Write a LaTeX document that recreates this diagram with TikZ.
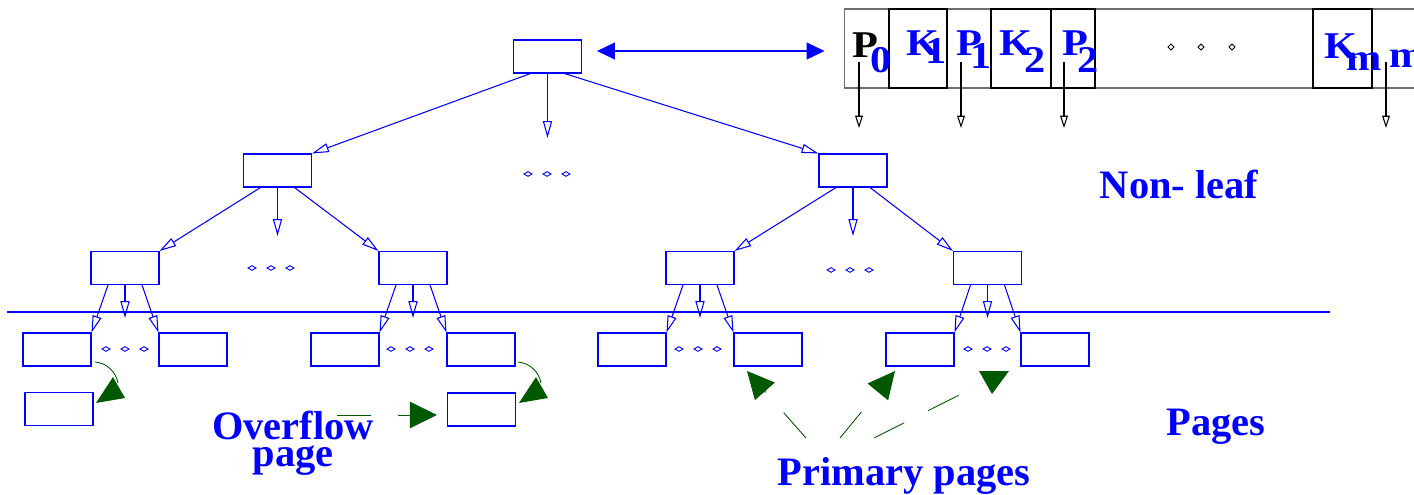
\documentclass[tikz,border=0pt]{standalone}
\usepackage{fontspec}
\setmainfont{Liberation Serif}
\newfontfamily\symfont[FakeStretch=1.12]{Liberation Serif}
\usetikzlibrary{arrows.meta,calc}
\definecolor{fblue}{RGB}{0,0,255}
\definecolor{fgreen}{RGB}{0,88,0}
\definecolor{fgray}{RGB}{110,110,110}
\tikzset{
  bluedia/.pic={\draw[fblue,line width=0.5pt] (-4,0)--(0,-2.3)--(4,0)--(0,2.3)--cycle;},
  blackdia/.pic={\draw[black,line width=0.45pt] (-3,0)--(0,-3)--(3,0)--(0,3)--cycle;},
  threedots/.pic={\pic at (-19,0) {bluedia}; \pic at (0,0) {bluedia}; \pic at (19,0) {bluedia};},
}
\begin{document}
\begin{tikzpicture}[x=0.02cm,y=-0.02cm,
  page/.style={draw=fblue, line width=0.6pt, minimum width=1.36cm, minimum height=0.66cm, inner sep=0pt},
  tree/.style={fblue, line width=0.6pt, -{Triangle[open,length=9.6pt,width=5.2pt]}},
  ptr/.style={black, line width=0.6pt, -{Triangle[open,length=7pt,width=4.4pt]}},
  cell/.style={draw=black, line width=0.6pt, minimum height=1.58cm, inner sep=0pt},
  sym/.style={inner sep=0pt, anchor=base west, font=\symfont\fontsize{21.5}{24}\selectfont\bfseries, text=fblue},
  lbl/.style={inner sep=0pt, anchor=base, font=\fontsize{23}{15.3}\selectfont\bfseries, text=fblue, align=center},
  hint/.style={fgreen, line width=0.5pt, dash pattern=on 19.3pt off 15.3pt},
  bighead/.style={-{Triangle[length=15.4pt,width=15pt]}},
]
\clip (0,0) rectangle (1414,494);

% ---------- detail of a non-leaf page ----------
\node[draw=fgray, line width=0.6pt, minimum width=11.92cm, minimum height=1.58cm, inner sep=0pt] (detail) at (1142,48.5) {};
\node[cell, minimum width=1.16cm] (k1) at (918,48.5) {};
\node[cell, minimum width=1.20cm] (k2) at (1021,48.5) {};
\node[cell, minimum width=0.88cm] (p2c) at (1073,48.5) {};
\node[cell, minimum width=1.18cm] (km) at (1342.5,48.5) {};

\node[sym, text=black] (tP0) at (852,57) {P};
\node[sym] (t0) at (870,72) {0};
\node[sym] (tK1) at (906,55) {K};
\node[sym] (t1a) at (925,63) {1};
\node[sym] (tP1) at (956,55) {P};
\node[sym] (t1b) at (970,68) {1};
\node[sym] (tK2) at (999,55) {K};
\node[sym] (t2a) at (1024,72) {2};
\node[sym] (tP2) at (1062,55) {P};
\node[sym] (t2b) at (1077,72) {2};
\node[sym] (tKm) at (1324,58) {K};
\node[sym] (tm1) at (1346,70) {m};
\node[sym] (tm2) at (1389,67) {m};

\pic at (1171,47) {blackdia};
\pic at (1201,47) {blackdia};
\pic at (1232,47) {blackdia};

\coordinate (a0) at (859,62);  \coordinate (b0) at (859,128);
\coordinate (a1) at (961,62);  \coordinate (b1) at (961,128);
\coordinate (a2) at (1064,62); \coordinate (b2) at (1064,128);
\coordinate (a3) at (1386,62); \coordinate (b3) at (1386,128);
\draw[ptr] (a0) -- (b0);
\draw[ptr] (a1) -- (b1);
\draw[ptr] (a2) -- (b2);
\draw[ptr] (a3) -- (b3);

% ---------- tree ----------
\node[page] (root) at (547.5,56.5) {};
\node[page] (l1a) at (277.5,170.5) {};
\node[page] (l1b) at (853,170.5) {};
\node[page] (l2a) at (125,268) {};
\node[page] (l2b) at (413,268) {};
\node[page] (l2c) at (700,268) {};
\node[page] (l2d) at (987.5,268) {};

\node[page] (lf1a) at (57,349.5) {};
\node[page] (lf1b) at (193,349.5) {};
\node[page] (lf2a) at (345,349.5) {};
\node[page] (lf2b) at (481,349.5) {};
\node[page] (lf3a) at (632,349.5) {};
\node[page] (lf3b) at (768,349.5) {};
\node[page] (lf4a) at (920,349.5) {};
\node[page] (lf4b) at (1055,349.5) {};

\node[page] (ov1) at (59,409) {};
\node[page] (ov2) at (481.5,409.5) {};

% double arrow
\coordinate (dA) at ([xshift=0.3cm,yshift=0.11cm]root.east);
\coordinate (dB) at ([xshift=-0.38cm]dA -| detail.west);
\draw[fblue, line width=0.8pt, {Triangle[length=10.2pt,width=9.6pt]}-{Triangle[length=10.2pt,width=9.6pt]}] (dA) -- (dB);

% root
\coordinate (rmid) at (547.5,138);
\draw[tree] ([xshift=-0.34cm]root.south) -- (l1a.north east);
\draw[tree] (root.south) -- (rmid);
\draw[tree] ([xshift=0.34cm]root.south) -- (l1b.north west);
\pic at (547,174) {threedots};

% level 1
\coordinate (amid) at (277.5,236);
\coordinate (bmid) at (853,236);
\draw[tree] ([xshift=-0.34cm]l1a.south) -- (l2a.north east);
\draw[tree] (l1a.south) -- (amid);
\draw[tree] ([xshift=0.34cm]l1a.south) -- (l2b.north west);
\draw[tree] ([xshift=-0.34cm]l1b.south) -- (l2c.north east);
\draw[tree] (l1b.south) -- (bmid);
\draw[tree] ([xshift=0.34cm]l1b.south) -- (l2d.north west);
\pic at (271,268) {threedots};
\pic at (850,270) {threedots};

% level 2
\foreach \p/\l/\r/\m in {l2a/lf1a/lf1b/ma, l2b/lf2a/lf2b/mb, l2c/lf3a/lf3b/mc, l2d/lf4a/lf4b/md}{
  \coordinate (\m) at ([yshift=-0.66cm]\p.south);
  \draw[tree] ([xshift=-0.34cm]\p.south) -- (\l.north east);
  \draw[tree] (\p.south) -- (\m);
  \draw[tree] ([xshift=0.34cm]\p.south) -- (\r.north west);
}
\pic at (125,349) {threedots};
\pic at (410,349) {threedots};
\pic at (698,349) {threedots};
\pic at (987,349) {threedots};

% separator line
\coordinate (hl1) at (7,312);
\coordinate (hl2) at (1330,312);
\draw[fblue, line width=0.6pt] (hl1) -- (hl2);

% ---------- overflow arrows ----------
\coordinate (o1s) at (95,362);
\coordinate (o1e) at (118,383);
\draw[fgreen, line width=0.5pt] (o1s) .. controls (107,363) and (116,372) .. (o1e);
\fill[fgreen] (96,403) -- (113,377) -- (125,398) -- cycle;
\coordinate (o2s) at (518,362);
\coordinate (o2e) at (541,383);
\draw[fgreen, line width=0.5pt] (o2s) .. controls (530,363) and (539,372) .. (o2e);
\fill[fgreen] (519,403) -- (536,377) -- (548,398) -- cycle;

% ---------- labels ----------
\node[lbl] (nonleaf) at (1179,198) {Non- leaf};
\node[lbl] (pages) at (1216,435) {Pages};
\node[lbl] (overflow) at (293,466) {Overflow\\page};
\node[lbl] (primary) at (904,485) {Primary pages};

\coordinate (ovs) at (337,415);
\coordinate (ovt) at ([xshift=-0.2cm]ov2.west);
\draw[hint, bighead] (ovs) -- (ovt |- ovs);

\coordinate (pa) at (806,438); \coordinate (pat) at (747,371);
\coordinate (pb) at (840,438); \coordinate (pbt) at (895,371);
\coordinate (pc) at (874,438); \coordinate (pce) at (983,383);
\draw[hint, bighead] (pa) -- (pat);
\draw[hint, bighead] (pb) -- (pbt);
\draw[hint] (pc) -- (pce);
\fill[fgreen] (979,371) -- (1009,371) -- (992,394) -- cycle;
\end{tikzpicture}
\end{document}
